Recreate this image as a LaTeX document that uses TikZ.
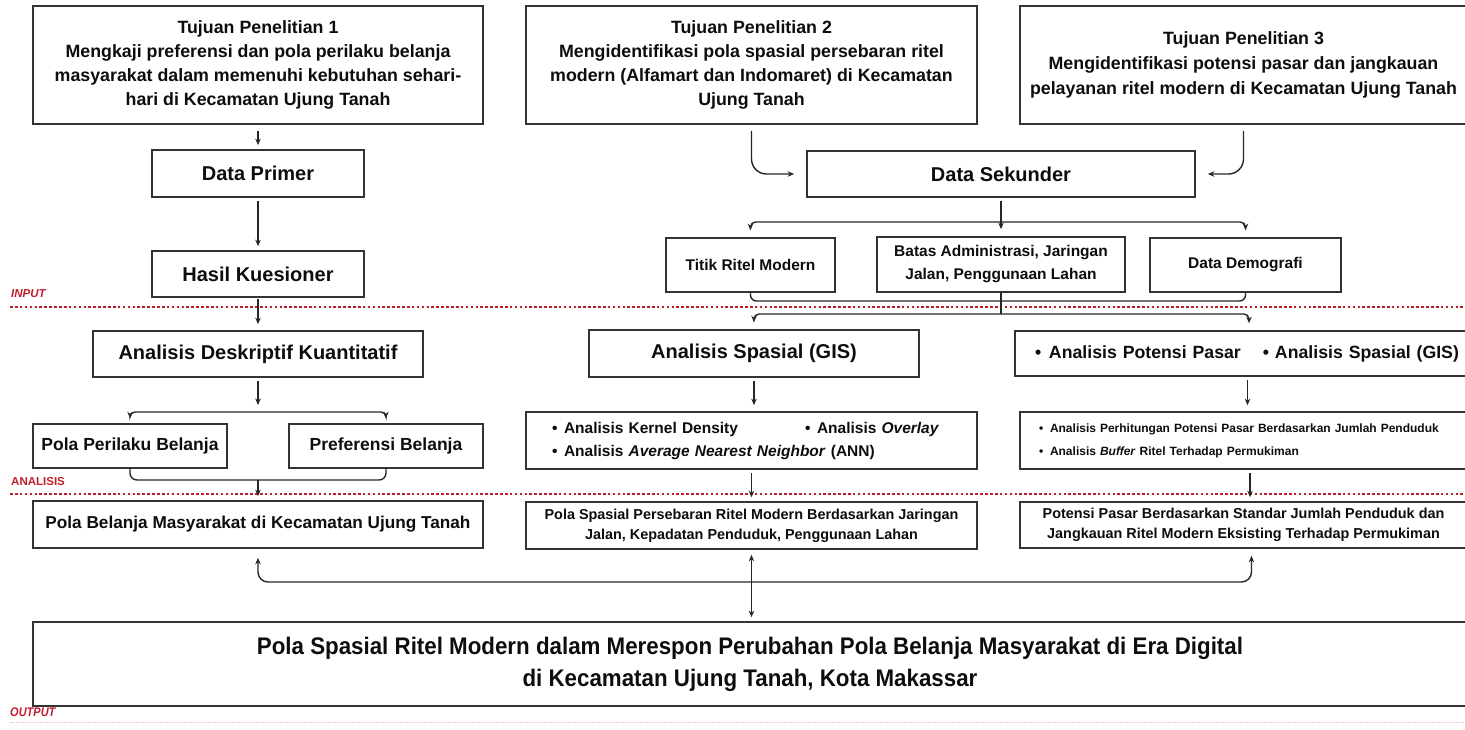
\documentclass[tikz,border=0pt]{standalone}
\usepackage{fontspec}
\usepackage{graphicx}
\setmainfont{Liberation Sans}
\usetikzlibrary{arrows.meta,calc}
\definecolor{boxline}{HTML}{333333}
\definecolor{redline}{HTML}{C01E2C}
\definecolor{pinkline}{HTML}{F6C4C4}
\newcommand{\fsz}[2]{\fontsize{#1}{#2}\selectfont\bfseries}
\newcommand{\cond}[1]{\scalebox{0.93}[1]{#1}}
\begin{document}
\begin{tikzpicture}[x=1pt,y=-1pt,
  box/.style={draw=boxline, line width=1.7pt, inner sep=2pt, align=center, text=black!95},
  conn/.style={line width=1.4pt, draw=black!85},
  arr/.style={conn, -{Stealth[length=6.5pt,width=5.5pt]}, shorten <=3pt, shorten >=4pt},
  darr/.style={conn, {Stealth[length=6.5pt,width=5.5pt]}-{Stealth[length=6.5pt,width=5.5pt]}},
  redsep/.style={draw=redline, line width=2.8pt, dash pattern=on 2.6pt off 2.3pt},
  lab/.style={anchor=west, inner sep=0pt, text=redline}]
\useasboundingbox (0,0) rectangle (1465,729);

% separators
\draw[redsep] (10,307) -- (1465,307);
\draw[redsep] (10,494) -- (1465,494);
\draw[draw=pinkline, line width=1pt, dash pattern=on 1.5pt off 1.5pt] (10,722) -- (1465,722);
\node[lab, font=\fsz{11.5}{13}\itshape] (inl) at (11,294) {INPUT};
\node[lab, font=\fsz{11.5}{13}] (anl) at (11,482) {ANALISIS};
\node[lab, font=\fsz{12.5}{14}\itshape] (outl) at (10,712) {\scalebox{0.88}[1]{OUTPUT}};

% top row
\node[box, minimum width=450pt, minimum height=118pt, font=\fsz{17.8}{24}] (t1) at (258,65)
  {Tujuan Penelitian 1\\Mengkaji preferensi dan pola perilaku belanja\\masyarakat dalam memenuhi kebutuhan sehari-\\hari di Kecamatan Ujung Tanah};
\node[box, minimum width=451pt, minimum height=118pt, font=\fsz{17.8}{24}] (t2) at (751.5,65)
  {Tujuan Penelitian 2\\Mengidentifikasi pola spasial persebaran ritel\\modern (Alfamart dan Indomaret) di Kecamatan\\Ujung Tanah};
\node[box, minimum width=447pt, minimum height=118pt, font=\fsz{17.8}{25}] (t3) at (1243.5,65)
  {Tujuan Penelitian 3\\Mengidentifikasi potensi pasar dan jangkauan\\pelayanan ritel modern di Kecamatan Ujung Tanah};

% input level
\node[box, minimum width=212pt, minimum height=47pt, font=\fsz{20}{24}] (dp) at (258,173.5) {Data Primer};
\node[box, minimum width=212pt, minimum height=46pt, font=\fsz{20}{24}] (hk) at (258,274) {Hasil Kuesioner};
\node[box, minimum width=388pt, minimum height=46pt, font=\fsz{20}{24}] (ds) at (1001,174) {Data Sekunder};
\node[box, minimum width=169pt, minimum height=54pt, font=\fsz{15.5}{23}] (ti) at (750.5,265) {Titik Ritel Modern};
\node[box, minimum width=248pt, minimum height=55pt, font=\fsz{15.5}{23}] (ba) at (1001,264.5) {Batas Administrasi, Jaringan\\Jalan, Penggunaan Lahan};
\node[box, minimum width=191pt, minimum height=54pt, font=\fsz{15.5}{23}] (de) at (1245.5,265) {Data Demografi};

% analysis level
\node[box, minimum width=330pt, minimum height=46pt, font=\fsz{20}{24}] (ad) at (258,354) {Analisis Deskriptif Kuantitatif};
\node[box, minimum width=330pt, minimum height=47pt, font=\fsz{20}{24}] (as) at (754,353.5) {Analisis Spasial (GIS)};
\node[box, minimum height=45pt, inner xsep=20pt, text width=412pt, align=left, font=\fsz{17.7}{22}] (ap) at (1241,353.5)
  {\makebox[228pt][l]{\makebox[14pt][l]{\textbullet}Analisis Potensi Pasar}\makebox[12pt][l]{\textbullet}\mbox{Analisis Spasial (GIS)}\hss};
\node[box, minimum width=194pt, minimum height=44pt, font=\fsz{17.5}{22}] (pp) at (130,446) {Pola Perilaku Belanja};
\node[box, minimum width=194pt, minimum height=44pt, font=\fsz{17.5}{22}] (pb) at (386,446) {Preferensi Belanja};
\node[box, minimum height=57pt, inner xsep=26pt, text width=399pt, align=left, font=\fsz{15.5}{23}] (mb) at (751.5,440.5)
  {\makebox[253pt][l]{\makebox[12pt][l]{\textbullet}Analisis Kernel Density}\makebox[12pt][l]{\textbullet}Analisis \textit{Overlay}\\
   \makebox[12pt][l]{\textbullet}Analisis \textit{Average Nearest Neighbor} (ANN)};
\node[box, minimum height=57pt, inner xsep=19pt, text width=409pt, align=left, font=\fsz{12}{23}] (rb) at (1243.5,440.5)
  {\makebox[11pt][l]{\textbullet}Analisis Perhitungan Potensi Pasar Berdasarkan Jumlah Penduduk\\
   \makebox[11pt][l]{\textbullet}Analisis \textit{Buffer} Ritel Terhadap Permukiman};

% results
\node[box, minimum width=450pt, minimum height=47pt, font=\fsz{17.2}{22}] (pm) at (258,524.5) {Pola Belanja Masyarakat di Kecamatan Ujung Tanah};
\node[box, minimum width=451pt, minimum height=47pt, font=\fsz{14.4}{20}] (ps) at (751.5,525.5)
  {Pola Spasial Persebaran Ritel Modern Berdasarkan Jaringan\\Jalan, Kepadatan Penduduk, Penggunaan Lahan};
\node[box, minimum width=447pt, minimum height=46pt, font=\fsz{14.4}{20}] (pq) at (1243.5,525)
  {Potensi Pasar Berdasarkan Standar Jumlah Penduduk dan\\Jangkauan Ritel Modern Eksisting Terhadap Permukiman};

% output
\node[box, minimum width=1434pt, minimum height=84pt, font=\fsz{24}{32}] (fin) at (750,664)
  {\cond{Pola Spasial Ritel Modern dalam Merespon Perubahan Pola Belanja Masyarakat di Era Digital}\\\cond{di Kecamatan Ujung Tanah, Kota Makassar}};

% coordinates
\coordinate (adj) at (258,412);
\coordinate (pmj) at (258,480);
\coordinate (dsj) at (1001,222);
\coordinate (mj) at (1001,301);
\coordinate (bj) at (1001,314);
\coordinate (bm) at (753,582);

% connectors left column
\draw[arr, shorten <=6pt] (t1.south) -- (dp.north);
\draw[arr] (dp.south) -- (hk.north);
\draw[arr, shorten <=1pt, shorten >=6pt] (hk.south) -- (ad.north);
\draw[arr, shorten >=7pt] (ad.south) -- (adj);
\draw[arr, rounded corners=5pt, shorten <=0pt, shorten >=5pt] (adj) -| (pp.north);
\draw[arr, rounded corners=5pt, shorten <=0pt, shorten >=5pt] (adj) -| (pb.north);
\draw[conn, rounded corners=7pt] (pp.south) |- (pmj) -| (pb.south);
\draw[arr, shorten <=0pt, shorten >=4pt] (pmj) -- (pm.north);

% connectors middle/right
\draw[arr, rounded corners=15pt, shorten <=6pt, shorten >=12pt] (t2.south) |- (ds.west);
\draw[arr, rounded corners=15pt, shorten <=6pt, shorten >=12pt] (t3.south) |- (ds.east);
\draw[arr, shorten >=7pt] (ds.south) -- (ba.north);
\draw[arr, rounded corners=5pt, shorten <=0pt, shorten >=7pt] (dsj) -| (ti.north);
\draw[arr, rounded corners=5pt, shorten <=0pt, shorten >=7pt] (dsj) -| (de.north);
\draw[conn, rounded corners=6pt] (ti.south) |- (mj) -| (de.south);
\draw[conn] (ba.south) -- (bj);
\draw[arr, rounded corners=5pt, shorten <=0pt, shorten >=7pt] (bj) -| (as.north);
\draw[arr, rounded corners=5pt, shorten <=0pt, shorten >=7pt] (bj) -| ([xshift=8pt]ap.north);

\draw[arr, shorten >=6pt] (as.south) -- (as.south |- mb.north);
\draw[arr, shorten >=4pt] (mb.south) -- (ps.north);
\draw[arr, shorten >=6pt] ([xshift=6.5pt]ap.south) -- ([xshift=6.5pt]ap.south |- rb.north);
\draw[arr, shorten >=4pt] ([xshift=6.5pt]rb.south) -- ([xshift=6.5pt]pq.north);

% bottom
\draw[darr, rounded corners=10pt, shorten <=9pt, shorten >=7pt] (pm.south) |- (bm) -| ([xshift=8pt]pq.south);
\draw[darr, shorten <=5pt, shorten >=4pt] (ps.south) -- (ps.south |- fin.north);
\end{tikzpicture}
\end{document}
